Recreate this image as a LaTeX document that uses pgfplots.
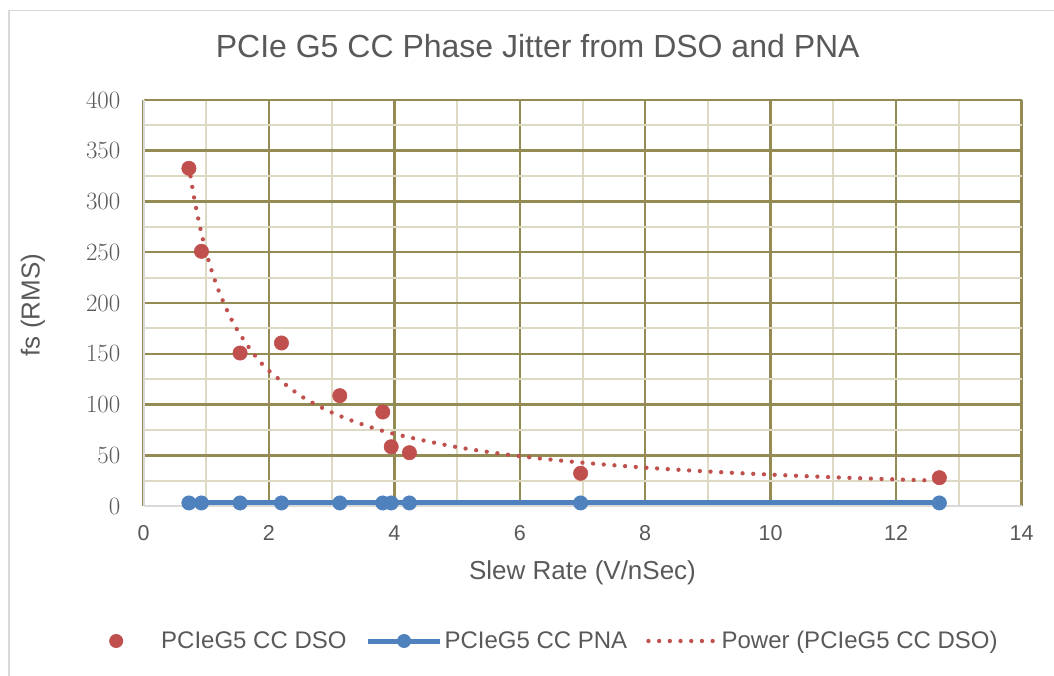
\documentclass[border=0pt]{standalone}
\usepackage{fontspec}
\setmainfont{Liberation Sans}
\usepackage{pgfplots}
\pgfplotsset{compat=1.18}
\definecolor{dsored}{HTML}{C0504D}
\definecolor{pnablue}{HTML}{4F81BD}
\definecolor{gridmaj}{HTML}{948A54}
\definecolor{gridmin}{HTML}{DDD9C3}
\definecolor{txt}{HTML}{595959}
\definecolor{framegray}{HTML}{D9D9D9}

\begin{document}
\begin{tikzpicture}
\useasboundingbox (0,0) rectangle (1054pt,675pt);
\draw[framegray, line width=1.5pt] (9pt,-10pt) rectangle (1070pt,664.5pt);
\begin{axis}[
  at={(143.5pt,169pt)}, anchor=south west,
  scale only axis, width=878pt, height=406pt,
  xmin=0, xmax=14, ymin=0, ymax=400,
  xtick={0,2,...,14}, xticklabels={0,2,4,6,8,10,12,14},
  ytick={0,50,...,400},
  minor x tick num=1, minor y tick num=1,
  grid=both,
  major grid style={draw=gridmaj, line width=2.5pt},
  minor grid style={draw=gridmin, line width=2pt},
  axis x line*=bottom, axis y line*=left,
  axis line style={-, draw=framegray, line width=2pt},
  major tick length=0pt, minor tick length=0pt,
  xticklabel style={font=\fontsize{21.5}{21.5}\selectfont, text=txt, anchor=center, inner sep=0pt, yshift=-27pt},
  yticklabel style={font=\fontsize{26}{26}\selectfont, text=txt, anchor=east, inner sep=0pt, xshift=-23pt},
  title={PCIe G5 CC Phase Jitter from DSO and PNA},
  title style={at={(axis description cs:0.449,1.118)}, anchor=center, inner sep=0pt, font=\fontsize{32}{32}\selectfont, text=txt},
  xlabel={Slew Rate (V/nSec)},
  xlabel style={at={(axis description cs:0.5,-0.165)}, anchor=center, inner sep=0pt, font=\fontsize{26}{26}\selectfont, text=txt},
  ylabel={fs (RMS)},
  ylabel style={at={(axis description cs:-0.1259,0.495)}, anchor=center, inner sep=0pt, font=\fontsize{26}{26}\selectfont, text=txt},
  legend columns=3,
  legend style={at={(axis description cs:-0.0393,-0.3325)}, anchor=west, draw=none, fill=none,
    inner sep=0pt, font=\fontsize{24}{24}\selectfont, text=txt, nodes={inner sep=0pt, text=txt},
    /tikz/every odd column/.append style={column sep=2pt},
    /tikz/every even column/.append style={column sep=19pt}},
]
% DSO measurements
\addplot[only marks, mark=*, mark size=7.2pt, color=dsored, mark options={draw=dsored, fill=dsored, line width=0.5pt},
  legend image code/.code={\path[draw=none, fill=none] (-7pt,0pt) -- (43pt,0pt);
    \fill[dsored, draw=none] (0pt,0pt) circle (7pt);}]
  coordinates {(0.724,332.7) (0.924,250.9) (1.54,150.7) (2.20,160.6) (3.13,108.7)
               (3.815,92.6) (3.95,58.4) (4.24,52.5) (6.97,32.2) (12.69,27.9)};
\addlegendentry{PCIeG5 CC DSO}
% PNA measurements
\addplot[color=pnablue, line width=5pt, mark=*, mark size=7.2pt, mark options={fill=pnablue, line width=0.5pt},
  legend image code/.code={\draw[pnablue, line width=5pt] (0pt,0pt) -- (72pt,0pt);
    \fill[pnablue, draw=none] (36pt,0pt) circle (7pt);}]
  coordinates {(0.724,3) (0.924,3) (1.54,3) (2.20,3) (3.13,3)
               (3.815,3) (3.95,3) (4.24,3) (6.97,3) (12.69,3)};
\addlegendentry{PCIeG5 CC PNA}
% power trendline
\addplot[color=dsored, line width=4.3pt, line cap=round, dash pattern=on 0pt off 10.7pt, smooth,
  legend image code/.code={\draw[dsored, line width=4.3pt, line cap=round, dash pattern=on 0pt off 10.7pt] (0pt,0pt) -- (69pt,0pt);}]
  coordinates {(0.724,335.2) (0.8,306.2) (0.9,275.1) (1.0,250) (1.1,229.3) (1.2,211.9)
               (1.35,190.4) (1.5,173.0) (1.75,150.4) (2.0,133.3) (2.5,108.8) (3.0,92.2)
               (3.5,80.2) (4.0,71.0) (5.0,58.0) (6.0,49.1) (7.0,42.7) (8.0,37.8)
               (9.0,34.0) (10.0,30.9) (11.0,28.3) (12.0,26.2) (12.69,24.9)};
\addlegendentry{Power (PCIeG5 CC DSO)}
\end{axis}
\end{tikzpicture}
\end{document}
